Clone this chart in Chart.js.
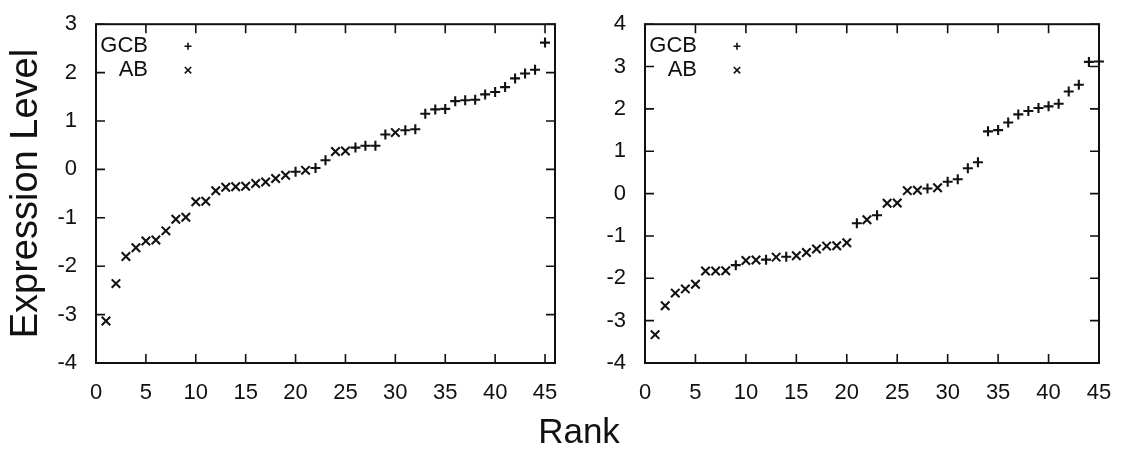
<!DOCTYPE html>
<html>
<head>
<meta charset="utf-8">
<script src="https://cdn.jsdelivr.net/npm/chart.js@4.4.0/dist/chart.umd.min.js"></script>
<style>
  body { margin: 0; background: #fff; width: 1122px; height: 449px; overflow: hidden; position: relative; font-family: 'Liberation Sans', Arial, sans-serif; }
  #left { position: absolute; left: 0; top: 0; }
  #right { position: absolute; left: 570px; top: 0; }
  #rank { position: absolute; left: 579px; top: 431px; transform: translate(-50%, -50%); font-size: 35px; color: #111; white-space: nowrap; }
</style>
</head>
<body>
<canvas id="left" width="570" height="449"></canvas>
<canvas id="right" width="552" height="449"></canvas>
<div id="rank">Rank</div>
<script>
// ranks 1..45, one value per rank, group says which marker
const ranks = [1, 2, 3, 4, 5, 6, 7, 8, 9, 10, 11, 12, 13, 14, 15, 16, 17, 18, 19, 20, 21, 22, 23,
    24, 25, 26, 27, 28, 29, 30, 31, 32, 33, 34, 35, 36, 37, 38, 39, 40, 41, 42, 43, 44, 45]

const leftValues = [-3.13, -2.36, -1.80, -1.62, -1.48, -1.46, -1.27, -1.03, -0.99, -0.67, -0.66,
    -0.44, -0.37, -0.36, -0.35, -0.29, -0.26, -0.19, -0.12, -0.05, -0.02, 0.03, 0.19, 0.37, 0.38,
    0.45, 0.49, 0.49, 0.72, 0.76, 0.81, 0.83, 1.15, 1.24, 1.25, 1.41, 1.43, 1.44, 1.55, 1.60,
    1.70, 1.88, 1.98, 2.06, 2.62]
const leftGroups = ['AB', 'AB', 'AB', 'AB', 'AB', 'AB', 'AB', 'AB', 'AB', 'AB', 'AB', 'AB', 'AB',
    'AB', 'AB', 'AB', 'AB', 'AB', 'AB', 'GCB', 'AB', 'GCB', 'GCB', 'AB', 'AB', 'GCB', 'GCB', 'GCB',
    'GCB', 'AB', 'GCB', 'GCB', 'GCB', 'GCB', 'GCB', 'GCB', 'GCB', 'GCB', 'GCB', 'GCB', 'GCB',
    'GCB', 'GCB', 'GCB', 'GCB']

const rightValues = [-3.33, -2.65, -2.35, -2.25, -2.14, -1.83, -1.83, -1.82, -1.69, -1.58, -1.57,
    -1.56, -1.50, -1.49, -1.47, -1.39, -1.31, -1.24, -1.23, -1.16, -0.70, -0.62, -0.51, -0.23,
    -0.22, 0.07, 0.08, 0.12, 0.14, 0.28, 0.34, 0.60, 0.74, 1.47, 1.50, 1.68, 1.87, 1.95, 2.02,
    2.06, 2.12, 2.41, 2.57, 3.11, 3.12]
const rightGroups = ['AB', 'AB', 'AB', 'AB', 'AB', 'AB', 'AB', 'AB', 'GCB', 'AB', 'AB', 'GCB', 'AB',
    'GCB', 'AB', 'AB', 'AB', 'AB', 'AB', 'AB', 'GCB', 'AB', 'GCB', 'AB', 'AB', 'AB', 'AB', 'GCB',
    'AB', 'GCB', 'GCB', 'GCB', 'GCB', 'GCB', 'GCB', 'GCB', 'GCB', 'GCB', 'GCB', 'GCB', 'GCB',
    'GCB', 'GCB', 'GCB', 'GCB']

const groupNames = ['GCB', 'AB']
const leftXRange = [0, 46]
const rightXRange = [0, 45]
const leftYRange = [-4, 3]
const rightYRange = [-4, 4]

const ink = '#111'
const markers = { GCB: { style: 'cross', radius: 5 }, AB: { style: 'crossRot', radius: 6 } }

function seriesFor(values, groups, name) {
    return ranks.map((r, i) => (groups[i] === name ? { x: r, y: values[i] } : null)).filter(Boolean)
}

// box with inward ticks on all four sides plus the in-plot key
const framePlugin = {
    id: 'frame',
    afterDraw(chart) {
        const { ctx, chartArea: a, scales } = chart
        ctx.save()
        ctx.strokeStyle = ink
        ctx.fillStyle = ink
        ctx.lineWidth = 2
        ctx.strokeRect(a.left, a.top, a.right - a.left, a.bottom - a.top)
        ctx.lineWidth = 1.6
        ctx.beginPath()
        scales.x.ticks.forEach(t => {
            const px = scales.x.getPixelForValue(t.value)
            ctx.moveTo(px, a.bottom); ctx.lineTo(px, a.bottom - 9)
            ctx.moveTo(px, a.top); ctx.lineTo(px, a.top + 9)
        })
        scales.y.ticks.forEach(t => {
            const py = scales.y.getPixelForValue(t.value)
            ctx.moveTo(a.left, py); ctx.lineTo(a.left + 9, py)
            ctx.moveTo(a.right, py); ctx.lineTo(a.right - 9, py)
        })
        ctx.stroke()

        ctx.font = '22px "Liberation Sans", Arial, sans-serif'
        ctx.textAlign = 'right'
        ctx.textBaseline = 'middle'
        groupNames.forEach((name, i) => {
            const y = a.top + 22 + i * 24
            ctx.fillText(name, a.left + 52, y)
            Chart.helpers.drawPoint(ctx, {
                pointStyle: markers[name].style,
                radius: markers[name].radius - 1.5,
                borderWidth: 2,
                rotation: 0
            }, a.left + 92, y)
        })
        ctx.restore()
    }
}

function makeChart(id, values, groups, xRange, yRange, yWidth, padRight, showTitle) {
    const tickFont = { family: '"Liberation Sans", Arial, sans-serif', size: 22 }
    return new Chart(document.getElementById(id), {
        type: 'scatter',
        data: {
            datasets: groupNames.map(name => ({
                label: name,
                data: seriesFor(values, groups, name),
                pointStyle: markers[name].style,
                pointRadius: markers[name].radius,
                pointHoverRadius: markers[name].radius,
                borderColor: ink,
                backgroundColor: ink,
                borderWidth: 2.1,
                showLine: false,
                clip: false
            }))
        },
        options: {
            responsive: false,
            animation: false,
            layout: { padding: { top: 15, right: padRight, left: 0, bottom: 0 } },
            plugins: { legend: { display: false }, tooltip: { enabled: false } },
            scales: {
                x: {
                    type: 'linear',
                    min: xRange[0],
                    max: xRange[1],
                    grid: { display: false },
                    border: { display: false },
                    ticks: { stepSize: 5, includeBounds: false, maxRotation: 0, autoSkip: false,
                        font: tickFont, color: ink, padding: 9 },
                    afterFit: s => { s.height = 86 }
                },
                y: {
                    min: yRange[0],
                    max: yRange[1],
                    grid: { display: false },
                    border: { display: false },
                    ticks: { stepSize: 1, font: tickFont, color: ink, padding: 11 },
                    title: {
                        display: showTitle,
                        text: 'Expression Level',
                        color: ink,
                        font: { family: '"Liberation Sans", Arial, sans-serif', size: 38 },
                        padding: { top: 4, bottom: 0 }
                    },
                    afterFit: s => { s.width = yWidth }
                }
            }
        },
        plugins: [framePlugin]
    })
}

makeChart('left', leftValues, leftGroups, leftXRange, leftYRange, 96, 15, true)
makeChart('right', rightValues, rightGroups, rightXRange, rightYRange, 75, 23, false)
</script>
</body>
</html>
